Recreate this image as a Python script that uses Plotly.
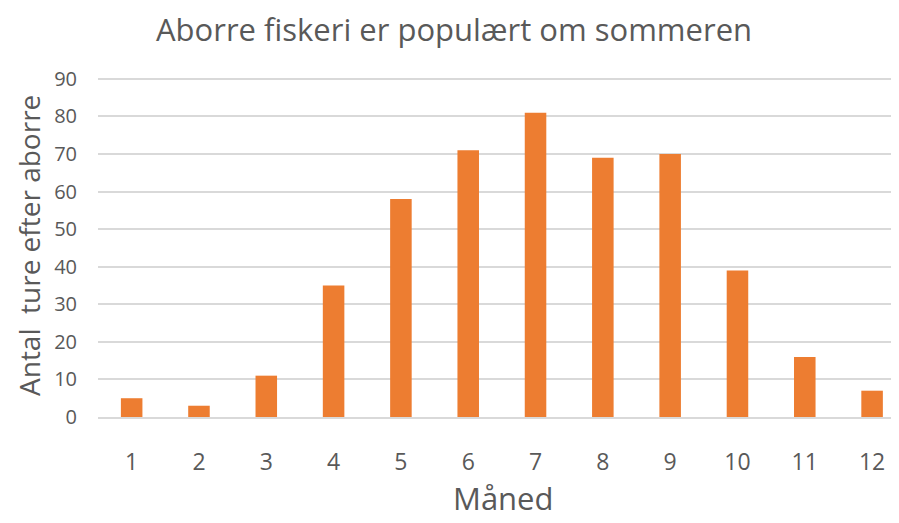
import plotly.graph_objects as go

months = [1, 2, 3, 4, 5, 6, 7, 8, 9, 10, 11, 12]
trips = [5, 3, 11, 35, 58, 71, 81, 69, 70, 39, 16, 7]
y_ticks = [0, 10, 20, 30, 40, 50, 60, 70, 80, 90]

title_text = "Aborre fiskeri er populært om sommeren"
x_title = "Måned"
y_title = "Antal  ture efter aborre"

TXT = "#595959"
FONT = "Open Sans"

W, H = 899, 523
L, R, T, B = 90, 10, 69, 114
OFF = 8  # page body offset

fig = go.Figure(go.Bar(x=months, y=trips, marker=dict(color="#ED7D31", line=dict(width=0))))

pw, ph = W - L - R, H - T - B


def px(x, y):
    return ((x - OFF - L) / pw, (H - B - (y - OFF)) / ph)


anns = []
for text, sx, sy, size, ang, ya in [
    (title_text, 454, 29, 31, 0, "middle"),
    (x_title, 503, 521, 31, 0, "bottom"),
    (y_title, 29, 246, 28, -90, "middle"),
]:
    ax, ay = px(sx, sy)
    anns.append(dict(text=text, x=ax, y=ay, xref="paper", yref="paper", showarrow=False,
                     textangle=ang, font=dict(size=size, color=TXT, family=FONT),
                     xanchor="center", yanchor=ya))

fig.update_layout(
    width=W, height=H,
    margin=dict(l=L, r=R, t=T, b=B),
    paper_bgcolor="white", plot_bgcolor="white",
    bargap=0.68,
    showlegend=False,
    font=dict(family=FONT, color=TXT),
    annotations=anns,
)

fig.update_xaxes(range=[0.5, 12.37], tickmode="array", tickvals=months,
                 ticktext=[str(m) for m in months],
                 tickfont=dict(size=23, color=TXT), ticklabelstandoff=24,
                 showgrid=False, showline=True, linecolor="#D9D9D9", linewidth=1.5,
                 ticks="", zeroline=False)
fig.update_yaxes(range=[0, 90.5], tickmode="array", tickvals=y_ticks,
                 tickfont=dict(size=20, color=TXT), ticklabelstandoff=20,
                 showgrid=True, gridcolor="#D9D9D9", gridwidth=1.5,
                 zeroline=False, showline=False, ticks="")

fig.write_html("out.html")
